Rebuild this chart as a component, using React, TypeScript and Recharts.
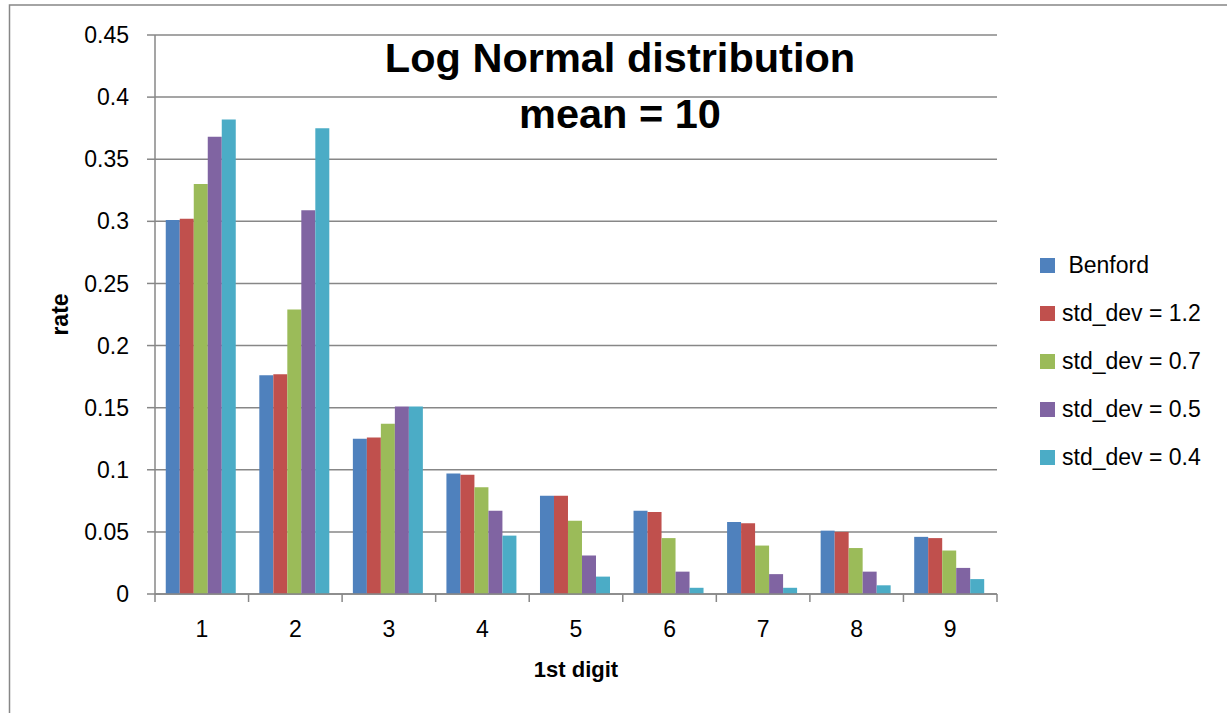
import React from 'react';
import { BarChart, Bar, XAxis, YAxis, CartesianGrid, Legend, Label } from 'recharts';

const categories = ['1', '2', '3', '4', '5', '6', '7', '8', '9'];
const benford = [0.301, 0.176, 0.125, 0.097, 0.079, 0.067, 0.058, 0.051, 0.046];
const std12 = [0.302, 0.177, 0.126, 0.096, 0.079, 0.066, 0.057, 0.050, 0.045];
const std07 = [0.330, 0.229, 0.137, 0.086, 0.059, 0.045, 0.039, 0.037, 0.035];
const std05 = [0.368, 0.309, 0.151, 0.067, 0.031, 0.018, 0.016, 0.018, 0.021];
const std04 = [0.382, 0.375, 0.151, 0.047, 0.014, 0.005, 0.005, 0.007, 0.012];
const yTicks = [0, 0.05, 0.1, 0.15, 0.2, 0.25, 0.3, 0.35, 0.4, 0.45];

const seriesNames = [' Benford', 'std_dev = 1.2', 'std_dev = 0.7', 'std_dev = 0.5', 'std_dev = 0.4'];
const seriesKeys = ['benford', 's12', 's07', 's05', 's04'];
const seriesColors = ['#4F81BD', '#C0504D', '#9BBB59', '#8064A2', '#4BACC6'];

const data = categories.map((c, i) => ({
  digit: c,
  benford: benford[i],
  s12: std12[i],
  s07: std07[i],
  s05: std05[i],
  s04: std04[i],
}));

const W = 1227;
const H = 713;
const MARGIN = { top: 35, right: 230, bottom: 0, left: 0 };
const Y_AXIS_W = 155;
const X_AXIS_H = 119;
const PLOT_W = W - MARGIN.left - MARGIN.right - Y_AXIS_W;
const STEP = PLOT_W / categories.length;
const FONT = "'Liberation Sans', Arial, sans-serif";
const GRID = '#878787';

const XTick = (props: any) => {
  const { x, y, payload, index } = props;
  const half = STEP / 2;
  return (
    <g>
      <line x1={x - half} x2={x - half} y1={y} y2={y + 8} stroke={GRID} strokeWidth={1.5} />
      {index === categories.length - 1 && (
        <line x1={x + half} x2={x + half} y1={y} y2={y + 8} stroke={GRID} strokeWidth={1.5} />
      )}
      <text x={x} y={y + 43} textAnchor="middle" fontSize={23} fill="#000" fontFamily={FONT}>
        {payload.value}
      </text>
    </g>
  );
};

const LegendContent = () => (
  <div style={{ fontFamily: FONT, fontSize: 23, color: '#000' }}>
    {seriesNames.map((n, i) => (
      <div key={n} style={{ height: 48, display: 'flex', alignItems: 'center' }}>
        <span style={{ display: 'inline-block', width: 15, height: 15, background: seriesColors[i], marginRight: 7 }} />
        <span style={{ whiteSpace: 'pre' }}>{n}</span>
      </div>
    ))}
  </div>
);

export default function App() {
  return (
    <div style={{ position: 'absolute', left: 0, top: 0, width: W, height: H, background: '#fff' }}>
      <BarChart
        width={W}
        height={H}
        data={data}
        margin={MARGIN}
        barCategoryGap="11.5%"
        barGap={0}
        style={{ fontFamily: FONT }}
      >
        <CartesianGrid vertical={false} stroke={GRID} strokeWidth={1.5} />
        <XAxis
          dataKey="digit"
          height={X_AXIS_H}
          interval={0}
          tickSize={0}
          tickMargin={0}
          tickLine={false}
          axisLine={{ stroke: GRID, strokeWidth: 1.5 }}
          tick={<XTick />}
        >
          <Label
            content={(p: any) => {
              const vb = p.viewBox;
              return (
                <text x={vb.x + vb.width / 2} y={vb.y + 83} textAnchor="middle" fontSize={22} fontWeight="bold" fontFamily={FONT} fill="#000">
                  1st digit
                </text>
              );
            }}
          />
        </XAxis>
        <YAxis
          width={Y_AXIS_W}
          domain={[0, 0.45]}
          ticks={yTicks}
          interval={0}
          tickSize={8}
          tickMargin={18}
          tick={{ fontSize: 23, fill: '#000', fontFamily: FONT }}
          tickLine={{ stroke: GRID, strokeWidth: 1.5 }}
          axisLine={{ stroke: GRID, strokeWidth: 1.5 }}
        >
          <Label
            content={(p: any) => {
              const vb = p.viewBox;
              const cx = vb.x + 68;
              const cy = vb.y + vb.height / 2;
              return (
                <text x={cx} y={cy} transform={`rotate(-90 ${cx} ${cy})`} textAnchor="middle" fontSize={23} fontWeight="bold" fontFamily={FONT} fill="#000">
                  rate
                </text>
              );
            }}
          />
        </YAxis>
        <Legend
          layout="vertical"
          align="center"
          verticalAlign="middle"
          content={<LegendContent />}
          wrapperStyle={{ left: 1040, top: 241, width: 190, height: 240 }}
        />
        {seriesKeys.map((k, i) => (
          <Bar key={k} dataKey={k} name={seriesNames[i]} fill={seriesColors[i]} isAnimationActive={false} />
        ))}
      </BarChart>
      <svg width={W} height={H} style={{ position: 'absolute', left: 0, top: 0, pointerEvents: 'none' }}>
        <rect x={9.5} y={5} width={W + 20} height={H + 20} fill="none" stroke={GRID} strokeWidth={1.5} />
        <text x={620} y={71.7} textAnchor="middle" fontSize={41.5} fontWeight="bold" fontFamily={FONT} fill="#000">
          Log Normal distribution
        </text>
        <text x={620} y={128} textAnchor="middle" fontSize={41.5} fontWeight="bold" fontFamily={FONT} fill="#000">
          mean = 10
        </text>
      </svg>
    </div>
  );
}
